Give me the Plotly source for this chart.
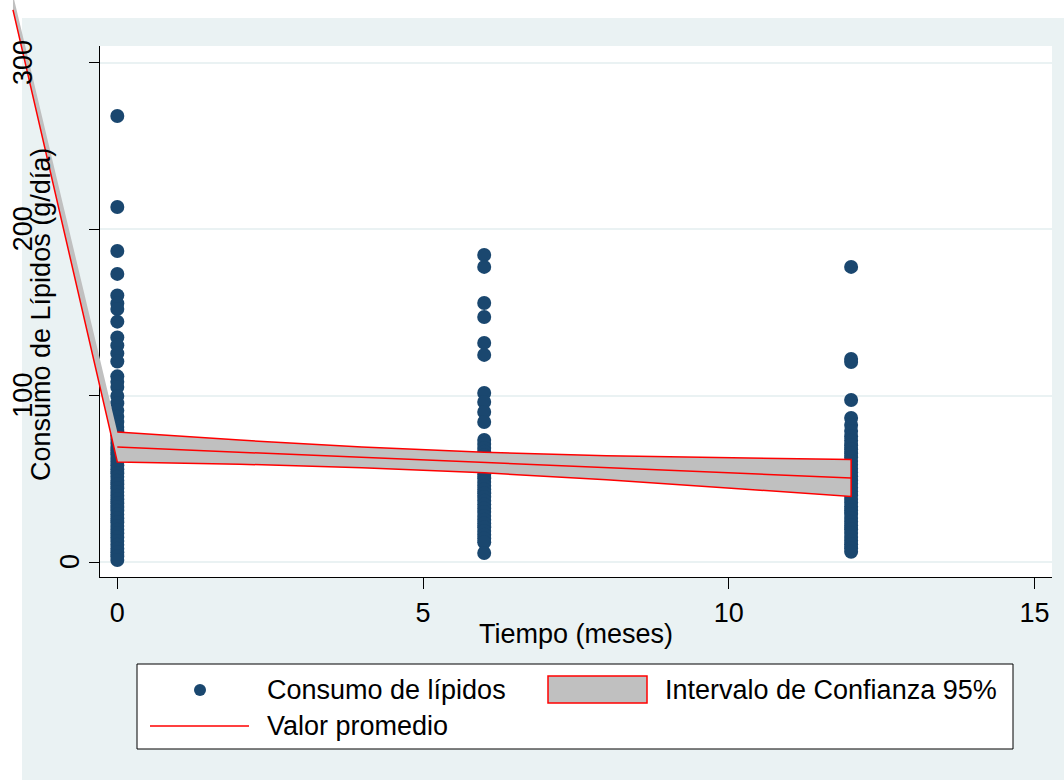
import plotly.graph_objects as go

W, H = 1064, 780

# ---------------- data ----------------
months = [0, 6, 12]
lipids_m0 = [268.1, 213.4, 187.0, 173.2, 160.2, 155.4, 152.1, 144.5, 135.0, 130.2,
             125.4, 120.5, 111.6, 108.3, 105.2, 99.8, 95.4, 91.0, 87.3, 84.1, 81.2,
             78.6, 76.0, 73.9, 71.5, 69.2, 67.0, 64.8, 62.5, 60.3, 58.1, 55.7, 53.4,
             51.2, 48.9, 46.7, 44.4, 42.1, 39.9, 37.6, 35.3, 33.0, 30.8, 28.5, 26.2,
             23.9, 21.7, 19.4, 17.1, 14.8, 12.6, 10.3, 8.0, 5.8, 3.5, 1.2]
lipids_m6 = [184.6, 177.4, 155.7, 147.3, 131.7, 124.5, 101.6, 96.2, 90.2, 84.2, 73.3,
             71.0, 68.6, 66.3, 64.1, 61.8, 59.4, 57.2, 54.9, 52.6, 50.4, 48.1, 45.8,
             43.6, 41.3, 39.0, 36.8, 34.5, 32.2, 30.0, 27.7, 25.4, 23.2, 20.9, 18.6,
             16.4, 14.1, 11.8, 5.4]
lipids_m12 = [177.4, 122.0, 120.2, 97.4, 86.6, 82.4, 78.8, 75.5, 72.9, 70.2, 67.8,
              65.4, 63.0, 60.7, 58.4, 56.1, 53.8, 51.5, 49.2, 47.0, 44.7, 42.4, 40.1,
              37.9, 35.6, 33.3, 31.0, 28.8, 26.5, 24.2, 21.9, 19.7, 17.4, 15.1, 12.8,
              10.6, 8.3, 6.1]

fit_x = [-1.706, 0, 2, 4, 6, 8, 10, 12]
ci_upper = [341.0, 78.1, 73.3, 69.1, 66.0, 63.9, 62.6, 61.6]
ci_lower = [331.9, 60.1, 58.8, 56.7, 53.6, 49.5, 44.6, 39.4]
mean_x = [0, 12]
mean_y = [69.1, 50.5]

x_ticks = [0, 5, 10, 15]
y_ticks = [0, 100, 200, 300]
y_ticklabels = ["0", "100", "200", "300"]

x_title = "Tiempo (meses)"
y_title = "Consumo de Lípidos (g/día)"
legend_labels = ["Consumo de lípidos", "Intervalo de Confianza 95%", "Valor promedio"]

# ---------------- styling ----------------
FONT = "Liberation Sans, Arial, Helvetica, sans-serif"
NAVY = "#1A476F"
RED = "#FF0000"
BAND = "#C0C0C0"
REGION = "#EAF2F3"
FS = 27

X_DOM = [100 / W, 1052 / W]
Y_DOM = [1 - 577 / H, 1 - 46 / H]
X_RANGE = [-0.283, 15.285]
Y_RANGE = [-9.02, 310.2]


def full_range(r, d):
    span = (r[1] - r[0]) / (d[1] - d[0])
    lo = r[0] - d[0] * span
    return [lo, lo + span]


def px(x):
    return x / W


def py(y):
    return 1 - y / H


fig = go.Figure()

# scatter points
sx, sy = [], []
for m, vals in zip(months, [lipids_m0, lipids_m6, lipids_m12]):
    sx += [m] * len(vals)
    sy += vals
fig.add_trace(go.Scatter(x=sx, y=sy, mode="markers", xaxis="x", yaxis="y",
                         marker=dict(size=14, color=NAVY, line=dict(width=0)),
                         showlegend=False, hoverinfo="skip"))

# CI band (drawn on an overlay axis covering the whole figure, same scale)
fig.add_trace(go.Scatter(x=fit_x + fit_x[::-1], y=ci_upper + ci_lower[::-1],
                         mode="lines", fill="toself", fillcolor=BAND,
                         line=dict(width=0, color=BAND), xaxis="x2", yaxis="y2",
                         showlegend=False, hoverinfo="skip"))
fig.add_trace(go.Scatter(x=fit_x[1:] + fit_x[::-1], y=ci_upper[1:] + ci_lower[::-1],
                         mode="lines", line=dict(width=1.5, color=RED),
                         xaxis="x2", yaxis="y2", showlegend=False, hoverinfo="skip"))
fig.add_trace(go.Scatter(x=mean_x, y=mean_y, mode="lines",
                         line=dict(width=1.5, color=RED),
                         xaxis="x2", yaxis="y2", showlegend=False, hoverinfo="skip"))

shapes = [
    # white outer strips
    dict(type="rect", xref="paper", yref="paper", x0=0, x1=1, y0=py(18), y1=1,
         fillcolor="white", line=dict(width=0), layer="below"),
    dict(type="rect", xref="paper", yref="paper", x0=0, x1=px(22), y0=0, y1=1,
         fillcolor="white", line=dict(width=0), layer="below"),
    # plot region
    dict(type="rect", xref="x domain", yref="y domain", x0=0, x1=1, y0=0, y1=1,
         fillcolor="white", line=dict(width=0), layer="below"),
    # legend box
    dict(type="rect", xref="paper", yref="paper", x0=px(137), x1=px(1013),
         y0=py(749), y1=py(664), fillcolor="white",
         line=dict(width=1, color="#000000"), layer="above"),
    dict(type="circle", xref="paper", yref="paper", x0=px(194), x1=px(206),
         y0=py(696), y1=py(684), fillcolor=NAVY, line=dict(width=0), layer="above"),
    dict(type="rect", xref="paper", yref="paper", x0=px(548), x1=px(647),
         y0=py(703), y1=py(676), fillcolor=BAND,
         line=dict(width=1.5, color=RED), layer="above"),
    dict(type="line", xref="paper", yref="paper", x0=px(150), x1=px(249),
         y0=py(726), y1=py(726), line=dict(width=1.5, color=RED), layer="above"),
]

annotations = []
for v, lbl in zip(y_ticks, y_ticklabels):
    xc = 70 if len(lbl) == 1 else 23
    annotations.append(dict(x=px(xc), y=v, xref="paper", yref="y", text=lbl,
                            textangle=-90, showarrow=False, xanchor="center",
                            yanchor="middle", font=dict(size=FS, color="black", family=FONT)))
annotations.append(dict(x=px(41), y=py(315), xref="paper", yref="paper", text=y_title,
                        textangle=-90, showarrow=False, xanchor="center", yanchor="middle",
                        font=dict(size=FS, color="black", family=FONT)))
annotations.append(dict(x=px(576), y=py(634), xref="paper", yref="paper", text=x_title,
                        showarrow=False, xanchor="center", yanchor="middle",
                        font=dict(size=FS, color="black", family=FONT)))
for (lx, ly), txt in zip([(265, 690), (663, 690), (265, 726)], legend_labels):
    annotations.append(dict(x=px(lx), y=py(ly), xref="paper", yref="paper", text=txt,
                            showarrow=False, xanchor="left", yanchor="middle",
                            font=dict(size=FS, color="black", family=FONT)))

fig.update_layout(
    width=W, height=H, autosize=False,
    margin=dict(l=0, r=0, t=0, b=0, pad=0),
    paper_bgcolor=REGION, plot_bgcolor="rgba(0,0,0,0)",
    font=dict(family=FONT, size=FS, color="black"),
    showlegend=False,
    xaxis=dict(domain=X_DOM, range=X_RANGE, tickvals=x_ticks, ticks="outside",
               ticklen=11, tickwidth=1.2, tickcolor="#000000", showline=True,
               linecolor="#000000", linewidth=1.3, showgrid=False, zeroline=False,
               tickfont=dict(size=FS, color="black", family=FONT), anchor="y",
               automargin=False, fixedrange=True),
    yaxis=dict(domain=Y_DOM, range=Y_RANGE, tickvals=y_ticks, ticks="outside",
               ticklen=10, tickwidth=1.2, tickcolor="#000000", showticklabels=False,
               showline=True, linecolor="#000000", linewidth=1.3, showgrid=True,
               gridcolor=REGION, gridwidth=2, zeroline=False, anchor="x",
               automargin=False, fixedrange=True),
    xaxis2=dict(domain=[0, 1], range=full_range(X_RANGE, X_DOM), visible=False,
                anchor="y2", fixedrange=True),
    yaxis2=dict(domain=[0, 1], range=full_range(Y_RANGE, Y_DOM), visible=False,
                anchor="x2", fixedrange=True),
    shapes=shapes,
    annotations=annotations,
)

fig.write_html("out.html", config={"displayModeBar": False})
